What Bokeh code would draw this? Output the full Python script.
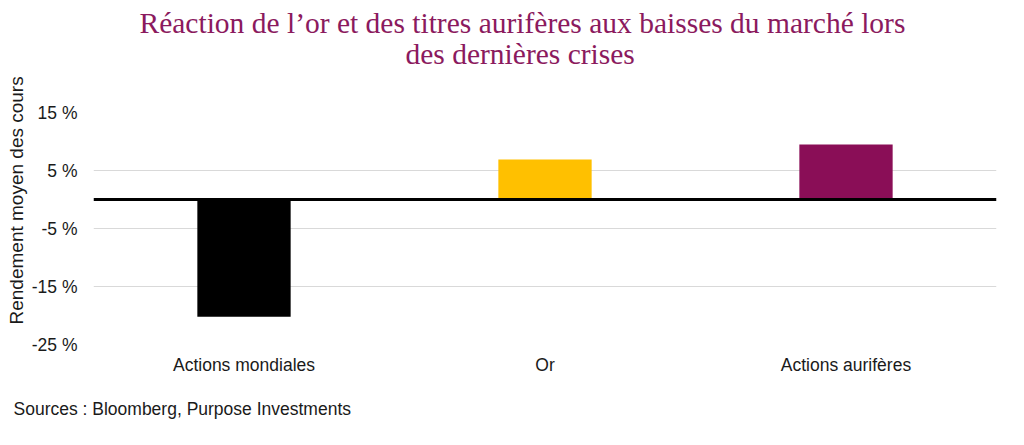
from bokeh.plotting import figure
from bokeh.models import Range1d, FixedTicker, PrintfTickFormatter, Span, Title, ColumnDataSource
from bokeh.embed import file_html
from bokeh.resources import INLINE

categories = ["Actions mondiales", "Or", "Actions aurifères"]
values = [-20.2, 6.9, 9.5]
colors = ["#000000", "#FFC000", "#8A0E57"]
y_ticks = [-25, -15, -5, 5, 15]

title_line1 = "Réaction de l’or et des titres aurifères aux baisses du marché lors"
title_line2 = "des dernières crises"
y_label = "Rendement moyen des cours"
source_text = "Sources : Bloomberg, Purpose Investments"

TITLE_COLOR = "#8B1A5E"
SANS = "Liberation Sans"
SERIF = "Liberation Serif"
TITLE_SIZE = "29.5px"

src = ColumnDataSource(dict(cat=categories, val=values, color=colors))

p = figure(x_range=categories, y_range=Range1d(-25, 15), width=1008, height=437,
           output_backend="svg", toolbar_location=None, title=None,
           min_border_left=93, min_border_right=12, min_border_top=112, min_border_bottom=92)

p.vbar(x="cat", top="val", bottom=0, width=0.31, color="color", line_color=None, source=src)

p.add_layout(Span(location=0, dimension="width", line_color="black", line_width=3))

p.xaxis.axis_line_color = None
p.xaxis.major_tick_line_color = None
p.xaxis.minor_tick_line_color = None
p.xaxis.major_tick_out = 0
p.xaxis.minor_tick_out = 0
p.xaxis.major_label_text_font = SANS
p.xaxis.major_label_text_font_size = "17.5px"
p.xaxis.major_label_text_color = "#1a1a1a"
p.xaxis.major_label_standoff = 10

p.yaxis.ticker = FixedTicker(ticks=y_ticks)
p.yaxis.formatter = PrintfTickFormatter(format="%d %%")
p.yaxis.axis_line_color = None
p.yaxis.major_tick_line_color = None
p.yaxis.minor_tick_line_color = None
p.yaxis.major_tick_out = 0
p.yaxis.minor_tick_out = 0
p.yaxis.major_label_text_font = SANS
p.yaxis.major_label_text_font_size = "17.5px"
p.yaxis.major_label_text_color = "#1a1a1a"
p.yaxis.major_label_standoff = 16

p.xgrid.visible = False
p.ygrid.grid_line_color = "#D9D9D9"
p.ygrid.grid_line_width = 1
p.outline_line_color = None

p.add_layout(Title(text=y_label, align="left", offset=20, text_font=SANS,
                   text_font_size="19px", text_font_style="normal", text_color="#1a1a1a",
                   standoff=4), "left")

# blank spacer between the frame and the second title line
p.add_layout(Title(text=" ", align="left", offset=0, text_font=SERIF,
                   text_font_size=TITLE_SIZE, text_font_style="normal", text_color="#ffffff",
                   standoff=9), "above")
p.add_layout(Title(text=title_line2, align="left", offset=312, text_font=SERIF,
                   text_font_size=TITLE_SIZE, text_font_style="normal", text_color=TITLE_COLOR,
                   standoff=0), "above")
p.add_layout(Title(text=title_line1, align="left", offset=46, text_font=SERIF,
                   text_font_size=TITLE_SIZE, text_font_style="normal", text_color=TITLE_COLOR,
                   standoff=-6), "above")

p.add_layout(Title(text=source_text, align="left", offset=-80, text_font=SANS,
                   text_font_size="17.5px", text_font_style="normal", text_color="#1a1a1a",
                   standoff=38), "below")

open("out.html", "w").write(file_html(p, INLINE))
